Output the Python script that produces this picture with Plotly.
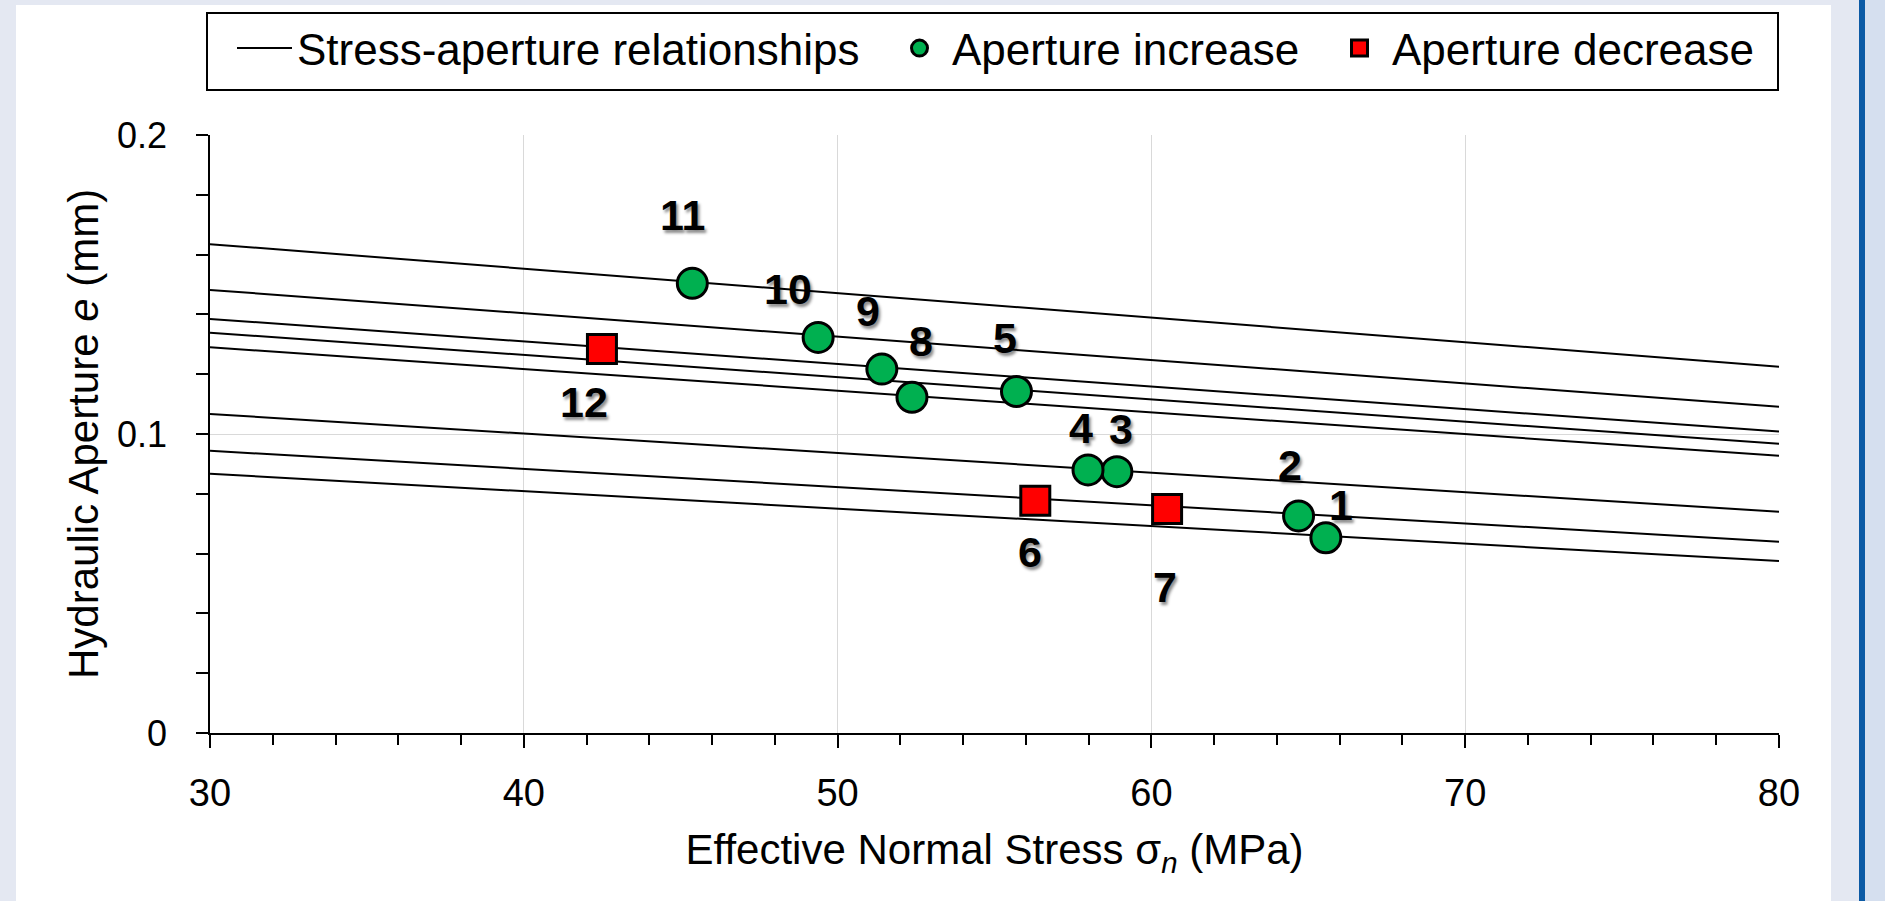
import plotly.graph_objects as go

# ---------------- data ----------------
stress_range = [30, 80]
line_e_at_30 = [0.1635, 0.1482, 0.1385, 0.1339, 0.1290, 0.1067, 0.0944, 0.0867]
line_e_at_80 = [0.1225, 0.1091, 0.1008, 0.0967, 0.0927, 0.0740, 0.0640, 0.0575]

point_ids = [1, 2, 3, 4, 5, 6, 7, 8, 9, 10, 11, 12]
point_stress = [65.56, 64.69, 58.90, 57.98, 55.70, 56.30, 60.50, 52.37, 51.41, 49.38, 45.37, 42.49]
point_aperture = [0.0653, 0.0726, 0.0874, 0.0880, 0.1142, 0.0777, 0.0749, 0.1123, 0.1217, 0.1323, 0.1504, 0.1284]
point_change = ["inc", "inc", "inc", "inc", "inc", "dec", "dec", "inc", "inc", "inc", "inc", "dec"]

# label offsets (screen px: dx right, dy down) relative to each point
label_offsets = {1: (15, -33), 2: (-9, -51), 3: (4, -43), 4: (-7, -42), 5: (-11, -54),
                 6: (-5, 51), 7: (-2, 78), 8: (9, -56), 9: (-14, -58), 10: (-30, -48),
                 11: (-10, -68), 12: (-18, 53)}

# ---------------- layout constants ----------------
W, H = 1885, 901
ML, MR, MT, MB = 210, W - 1779, 135, H - 733
PW, PH = W - ML - MR, H - MT - MB

SANS = "Liberation Sans, Arial, sans-serif"


def px_x(p):
    return (p - ML) / PW


def px_y(p):
    return (H - MB - p) / PH


fig = go.Figure()

# stress-aperture relationship lines (one trace, gaps between lines)
lx, ly = [], []
for a, b in zip(line_e_at_30, line_e_at_80):
    lx += [stress_range[0], stress_range[1], None]
    ly += [a, b, None]
fig.add_trace(go.Scatter(x=lx, y=ly, mode="lines", name="Stress-aperture relationships",
                         line=dict(color="black", width=2), connectgaps=False,
                         hoverinfo="skip", legendwidth=585))

inc_x = [s for s, c in zip(point_stress, point_change) if c == "inc"]
inc_y = [a for a, c in zip(point_aperture, point_change) if c == "inc"]
dec_x = [s for s, c in zip(point_stress, point_change) if c == "dec"]
dec_y = [a for a, c in zip(point_aperture, point_change) if c == "dec"]

fig.add_trace(go.Scatter(x=inc_x, y=inc_y, mode="markers", name="Aperture increase",
                         marker=dict(symbol="circle", size=30, color="#00b050",
                                     line=dict(color="black", width=3)),
                         legendwidth=370))
fig.add_trace(go.Scatter(x=dec_x, y=dec_y, mode="markers", name="Aperture decrease",
                         marker=dict(symbol="square", size=29, color="#ff0000",
                                     line=dict(color="black", width=3)),
                         legendwidth=360))

annotations = []
for pid, sx, ay in zip(point_ids, point_stress, point_aperture):
    dx, dy = label_offsets[pid]
    annotations.append(dict(x=sx, y=ay, xref="x", yref="y", text=str(pid), showarrow=False,
                            xshift=dx, yshift=-dy,
                            font=dict(family=SANS, size=43, color="black", weight="bold",
                                      shadow="2px 3px 3px rgba(0,0,0,0.45)")))

# y-axis title
annotations.append(dict(x=px_x(83), y=0.5, xref="paper", yref="paper", xanchor="center", yanchor="middle",
                        text="Hydraulic Aperture <i>e</i> (mm)", textangle=-90, showarrow=False,
                        font=dict(family=SANS, size=42, color="black")))

# page background panels + legend frame
shapes = [
    dict(type="rect", xref="paper", yref="paper", layer="below",
         x0=px_x(16), x1=px_x(1831), y0=px_y(H + 10), y1=px_y(5),
         fillcolor="white", line=dict(width=0)),
    dict(type="rect", xref="paper", yref="paper", layer="below",
         x0=px_x(1859), x1=px_x(1865), y0=px_y(H + 10), y1=px_y(-10),
         fillcolor="#0b5aa5", line=dict(width=0)),
    dict(type="rect", xref="paper", yref="paper", layer="below",
         x0=px_x(1865), x1=px_x(W + 10), y0=px_y(H + 10), y1=px_y(-10),
         fillcolor="#d5dfef", line=dict(width=0)),
    dict(type="rect", xref="paper", yref="paper", layer="above",
         x0=px_x(207), x1=px_x(1778), y0=px_y(90), y1=px_y(13),
         fillcolor="white", line=dict(color="black", width=2)),
]

fig.update_layout(
    width=W, height=H,
    margin=dict(l=ML, r=MR, t=MT, b=MB, pad=0),
    paper_bgcolor="#e4e8f2", plot_bgcolor="white",
    font=dict(family=SANS, color="black"),
    showlegend=True,
    legend=dict(orientation="h", xref="container", yref="container",
                x=232 / W, y=1 - 13 / H, xanchor="left", yanchor="top",
                bgcolor="rgba(0,0,0,0)", borderwidth=0, itemwidth=55,
                font=dict(family=SANS, size=44, color="black")),
    annotations=annotations,
    shapes=shapes,
)

fig.update_xaxes(range=[30, 80], dtick=10, tick0=30, showgrid=True, gridcolor="#d9d9d9", gridwidth=1,
                 showline=True, linecolor="black", linewidth=2, ticks="outside", ticklen=13,
                 tickwidth=1.5, tickcolor="black", ticklabelstandoff=12,
                 tickfont=dict(family=SANS, size=38), zeroline=False,
                 minor=dict(dtick=2, ticks="outside", ticklen=10, tickwidth=1.5, tickcolor="black", showgrid=False),
                 title=dict(text="Effective Normal Stress σ<sub><i>n</i></sub> (MPa)",
                            font=dict(family=SANS, size=42), standoff=22))
fig.update_yaxes(range=[0, 0.2], dtick=0.1, tick0=0, showgrid=True, gridcolor="#d9d9d9", gridwidth=1,
                 showline=True, linecolor="black", linewidth=1.5, ticks="outside", ticklen=12,
                 tickwidth=1.5, tickcolor="black", ticklabelstandoff=22,
                 tickfont=dict(family=SANS, size=36), zeroline=False,
                 minor=dict(dtick=0.02, ticks="outside", ticklen=12, tickwidth=1.5, tickcolor="black", showgrid=False))

fig.write_html("out.html")
